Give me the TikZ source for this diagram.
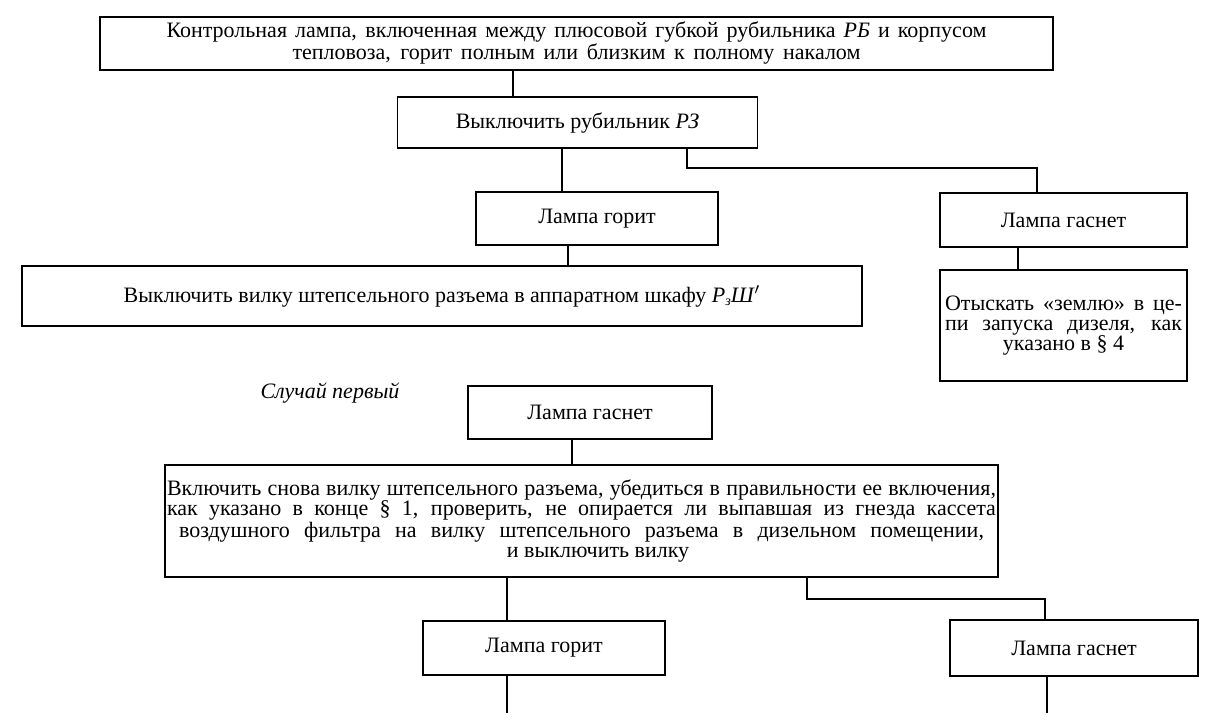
\documentclass[tikz,border=0pt]{standalone}
\usepackage{fontspec}
\setmainfont{Liberation Serif}
\tikzset{
    box/.style={draw, line width=0.8pt, inner sep=0pt, align=center,
        font=\fontsize{11}{10}\selectfont},
    wire/.style={line width=0.8pt},
}

\begin{document}
\begin{tikzpicture}[x=0.5pt, y=-0.5pt]
    \useasboundingbox (0,0) rectangle (1222,728);

    % Upper part
    \node[box, minimum width=476.5pt, minimum height=26.5pt,
        font=\fontsize{11}{11}\selectfont] (top) at (576.5,43.5)
        {\makebox[410pt][s]{Контрольная лампа, включенная между плюсовой губкой рубильника \textit{РБ} и корпусом}\\
         \makebox[284pt][s]{тепловоза, горит полным или близким к полному накалом}};
    \node[box, minimum width=180pt, minimum height=25.5pt] (rubil) at (577.5,122.5)
        {Выключить рубильник \textit{РЗ}};
    \node[box, minimum width=121pt, minimum height=26.5pt] (lampA) at (597,218.5)
        {Лампа горит};
    \node[box, minimum width=123.5pt, minimum height=27pt] (lampB) at (1063.5,220)
        {Лампа гаснет};
    \node[box, minimum width=123.5pt, minimum height=55.5pt] (search) at (1063.5,325.5)
        {\raisebox{-3pt}{\parbox{118.5pt}{\centering
         \makebox[118.5pt][s]{Отыскать «землю» в це-}\\
         \makebox[118.5pt][s]{пи запуска дизеля, как}\\
         указано в § 4}}};
    \node[box, minimum width=420pt, minimum height=30pt] (vilka) at (442,296)
        {Выключить вилку штепсельного разъема в аппаратном шкафу \textit{Р\raisebox{-0.35ex}{\scriptsize з}Ш}$'$};

    % Lower part: first case
    \node[font=\itshape\fontsize{11}{10}\selectfont] (case) at (330,393) {Случай первый};
    \node[box, minimum width=122pt, minimum height=26.5pt] (lampC) at (590,412.5)
        {Лампа гаснет};
    \node[box, minimum width=416.5pt, minimum height=56pt] (big) at (581.5,521)
        {\makebox[414.5pt][s]{Включить снова вилку штепсельного разъема, убедиться в правильности ее включения,}\\
         \makebox[414.5pt][s]{как указано в конце § 1, проверить, не опирается ли выпавшая из гнезда кассета}\\
         \makebox[402.5pt][s]{воздушного фильтра на вилку штепсельного разъема в дизельном помещении,}\\
         \makebox[414.5pt][l]{\hspace{170pt}и выключить вилку}};
    \node[box, minimum width=121pt, minimum height=27pt] (lampD) at (544,648)
        {Лампа горит};
    \node[box, minimum width=124pt, minimum height=28pt] (lampE) at (1074,648)
        {Лампа гаснет};

    % Where the connectors run
    \coordinate (k1) at (513,0);
    \coordinate (k2) at (562,0);
    \coordinate (k3) at (687,0);
    \coordinate (k4) at (1037,0);
    \coordinate (k5) at (1018,0);
    \coordinate (k6) at (568,0);
    \coordinate (k7) at (572,0);
    \coordinate (k8) at (507,0);
    \coordinate (k9) at (807,0);
    \coordinate (k10) at (1045,0);
    \coordinate (endD) at (507,713);
    \coordinate (endE) at (1047,713);

    % Connectors
    \draw[wire] (top.south -| k1) -- (rubil.north -| k1);
    \draw[wire] (rubil.south -| k2) -- (lampA.north -| k2);
    \draw[wire] (rubil.south -| k3) -- ++(0,19) -| (lampB.north -| k4);
    \draw[wire] (lampB.south -| k5) -- (search.north -| k5);
    \draw[wire] (lampA.south -| k6) -- (vilka.north -| k6);
    \draw[wire] (lampC.south -| k7) -- (big.north -| k7);
    \draw[wire] (big.south -| k8) -- (lampD.north -| k8);
    \draw[wire] (big.south -| k9) -- ++(0,21) -| (lampE.north -| k10);
    \draw[wire] (lampD.south -| endD) -- (endD);
    \draw[wire] (lampE.south -| endE) -- (endE);
\end{tikzpicture}
\end{document}
